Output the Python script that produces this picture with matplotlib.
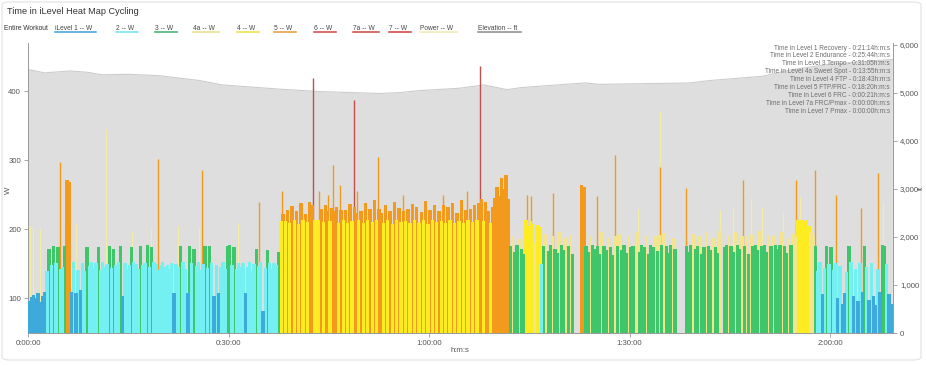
#!/usr/bin/env python3
"""
iLevel heat map: power coloured by training level over an elevation profile
"""
import numpy as np
import matplotlib as mpl
import matplotlib.pyplot as plt
from matplotlib.patches import FancyBboxPatch
from matplotlib.ticker import FuncFormatter, FixedLocator

mpl.rcParams.update({
    "font.family": ["Liberation Sans", "DejaVu Sans"],
    "axes.linewidth": 0.7,
})

# ---------------------------------------------------------------------------
# Data
# ---------------------------------------------------------------------------

BIN_MIN = 20 / 60  # one power value per 20 s

# power per 20 s bin, five minutes per line
power_w = [
    # 0-5 min
    96, 102, 105, 100, 108, 95, 104, 110, 140, 172, 148, 176, 152, 174, 143,
    # 5-10
    146, 176, 272, 268, 110, 153, 108, 141, 112, 151, 140, 174, 147, 153, 144,
    # 10-15
    152, 174, 141, 153, 146, 150, 176, 144, 172, 149, 153, 176, 104, 151, 142,
    # 15-20
    148, 175, 153, 150, 143, 176, 148, 152, 178, 145, 174, 153, 150, 141, 148,
    # 20-25
    153, 146, 149, 143, 152, 108, 150, 145, 176, 153, 142, 108, 176, 151, 172,
    # 25-30
    147, 153, 141, 150, 176, 144, 176, 152, 104, 149, 108, 145, 153, 142, 176,
    # 30-35
    178, 148, 174, 143, 152, 146, 151, 108, 145, 153, 140, 150, 172, 147, 153,
    # 35-40
    82, 144, 170, 152, 143, 151, 148, 168, 212, 222, 212, 228, 210, 234, 213,
    # 40-45
    226, 208, 238, 213, 222, 211, 240, 236, 214, 214, 213, 230, 211, 236, 226,
    # 45-50
    212, 231, 226, 233, 209, 228, 214, 228, 210, 237, 212, 233, 224, 213, 226,
    # 50-55
    209, 238, 214, 230, 211, 242, 213, 229, 224, 210, 236, 213, 227, 208, 240,
    # 55-60
    214, 231, 211, 227, 212, 229, 209, 237, 214, 232, 210, 225, 213, 241, 208,
    # 60-65
    228, 214, 235, 211, 226, 212, 236, 209, 233, 214, 238, 210, 224, 212, 243,
    # 65-70
    209, 228, 213, 230, 211, 236, 214, 238, 244, 212, 239, 227, 210, 232, 246,
    # 70-75
    262, 248, 275, 258, 279, 244, 176, 190, 168, 178, 186, 171, 165, 214, 205,
    # 75-80
    212, 208, 180, 206, 204, 150, 176, 194, 169, 178, 190, 172, 166, 196, 177,
    # 80-85
    170, 188, 176, 192, 164, 0, 0, 0, 264, 262, 176, 168, 190, 177, 172,
    # 85-90
    176, 165, 196, 176, 170, 188, 175, 163, 190, 176, 194, 170, 178, 166, 190,
    # 90-95
    174, 176, 0, 196, 168, 178, 175, 192, 164, 178, 174, 190, 169, 192, 178,
    # 95-100
    195, 176, 166, 178, 188, 172, 0, 0, 0, 0, 176, 168, 178, 194, 172,
    # 100-105
    176, 190, 165, 174, 196, 176, 170, 188, 175, 166, 198, 0, 174, 178, 192,
    # 105-110
    176, 168, 196, 178, 172, 190, 176, 190, 165, 194, 176, 178, 170, 198, 176,
    # 110-115
    178, 167, 192, 176, 190, 178, 171, 178, 196, 176, 166, 188, 178, 194, 190,
    # 115-120
    214, 210, 213, 212, 214, 205, 196, 190, 176, 140, 153, 106, 144, 176, 150,
    # 120-125
    175, 141, 152, 100, 147, 92, 108, 138, 176, 153, 104, 143, 96, 152, 110,
    # 125-129:20
    176, 145, 98, 151, 104, 90, 142, 110, 178, 176, 150, 106, 92,
]

# short efforts: peak power, coloured by their own level
peak_min = [4.8, 19.5, 26.1, 34.5, 38.0, 42.6, 43.5, 44.9, 45.6, 46.7,
            48.8, 49.2, 52.4, 56.1, 62.1, 65.7, 67.6, 74.7, 75.2, 78.5,
            85.1, 87.8, 94.5, 98.4, 107.0, 114.9, 117.7, 120.9, 124.6, 127.2]
peak_w = [298, 302, 286, 239, 255, 420, 256, 250, 293, 264,
          388, 255, 305, 250, 250, 255, 436, 250, 248, 253,
          248, 308, 290, 260, 272, 272, 286, 250, 231, 282]

# raw power spikes (Power series)
raw_min = [0.3, 0.75, 1.8, 7.2, 11.7, 15.6, 18.4, 22.4, 25.6, 31.4,
           91.2, 94.5, 103.5, 105.5, 108.2, 109.8, 113.0, 115.5, 128.0]
raw_w = [205, 204, 200, 209, 345, 196, 200, 205, 204, 210,
         230, 371, 228, 233, 245, 232, 224, 247, 240]

elev_min = [0, 2.5, 6.3, 9, 11, 15, 19.7, 25.7, 29, 37.7, 43.7, 52.7, 55.7,
            58.6, 64.6, 68.2, 71.7, 73.6, 79.3, 83.3, 85.6, 99, 102, 110,
            114, 120, 129.33]
elev_ft = [5490, 5420, 5460, 5430, 5380, 5390, 5360, 5260, 5170, 5080, 5030,
           4990, 5010, 5050, 5100, 5170, 5070, 5110, 5170, 5210, 5180, 5210,
           5260, 5350, 5480, 5600, 5700]

level_labels = ["iLevel 1 -- W", "2 -- W", "3 -- W", "4a -- W", "4 -- W",
                "5 -- W", "6 -- W", "7a -- W", "7 -- W"]
level_floor_w = [0, 115, 155, 180, 200, 215, 310, 500, 700]
level_bar_colors = ["#3eaadb", "#74eff2", "#40c66a", "#f4e48e", "#fdec22",
                    "#f39a1c", "#c2504a", "#c4453c", "#d4352f"]
level_key_colors = ["#3a9fd6", "#6fe3ec", "#3dae6e", "#e9dc88", "#f0e03c",
                    "#e39a34", "#d0453f", "#c8463e", "#d23a34"]

level_names = ["Level 1 Recovery", "Level 2 Endurance", "Level 3 Tempo",
               "Level 4a Sweet Spot", "Level 4 FTP", "Level 5 FTP/FRC",
               "Level 6 FRC", "Level 7a FRC/Pmax", "Level 7 Pmax"]
level_times = ["0:21:14", "0:25:44", "0:31:05", "0:13:55", "0:18:43",
               "0:18:20", "0:00:21", "0:00:00", "0:00:00"]

POWER_COLOR = "#f3eca6"
ELEV_FILL = "#dedede"
ELEV_LINE = "#cccccc"

W, H = 926, 366


def px(x, y):
    """pixel (from top-left) -> figure fraction"""
    return x / W, 1 - y / H


def hms(v, _pos=None):
    s = int(round(v * 60))
    return f"{s // 3600}:{s % 3600 // 60:02d}:{s % 60:02d}"


def level_of(watts):
    return np.searchsorted(level_floor_w, np.asarray(watts, float), side="right") - 1


def main():
    fig = plt.figure(figsize=(W / 100, H / 100), dpi=100)

    # rounded card outline
    fig.patches.append(FancyBboxPatch(
        px(2, 360), 919 / W, 358 / H, boxstyle="round,pad=0,rounding_size=0.008",
        transform=fig.transFigure, fc="none", ec="#e2e2e2", lw=0.8))

    x0, y_top = px(28, 43)
    x1, y_bot = px(893, 333)
    ax2 = fig.add_axes([x0, y_bot, x1 - x0, y_top - y_bot])
    ax = ax2.twinx()
    # power axis on the left, elevation axis on the right
    ax.yaxis.tick_left()
    ax2.yaxis.tick_right()
    ax.set_zorder(ax2.get_zorder() + 1)
    ax.patch.set_visible(False)

    # elevation
    ax2.fill_between(elev_min, 0, elev_ft, color=ELEV_FILL, lw=0)
    ax2.plot(elev_min, elev_ft, color=ELEV_LINE, lw=0.8)
    ax2.set_ylim(0, 6042)

    # raw power spikes at the back
    ax.vlines(raw_min, 0, raw_w, color=POWER_COLOR, lw=0.9, zorder=1)

    # short efforts
    pk_lvl = level_of(peak_w)
    ax.vlines(peak_min, 0, peak_w, colors=[level_bar_colors[k] for k in pk_lvl],
              lw=1.0, zorder=2)

    # power by level, lower levels drawn on top
    p = np.asarray(power_w, dtype=float)
    t = (np.arange(len(p)) + 0.5) * BIN_MIN
    lvl = level_of(p)
    for k, col in enumerate(level_bar_colors):
        m = lvl == k
        if m.any():
            ax.bar(t[m], p[m], width=1.5 * BIN_MIN, color=col, lw=0,
                   zorder=20 - k)
    ax.set_ylim(50, 470)
    ax.set_xlim(0, (893 - 28) * 30 / 200.5)

    # axes cosmetics
    for a in (ax, ax2):
        for s in a.spines.values():
            s.set_visible(False)
        a.tick_params(length=3, width=0.6, color="#999999", labelsize=5.6,
                      labelcolor="#555555", pad=2)
    ax2.spines["bottom"].set_visible(True)
    ax2.spines["right"].set_visible(True)
    ax.spines["left"].set_visible(True)
    for s in (ax2.spines["bottom"], ax2.spines["right"], ax.spines["left"]):
        s.set_color("#999999")

    ax.yaxis.set_major_locator(FixedLocator([100, 200, 300, 400]))
    ax2.yaxis.set_major_locator(FixedLocator(range(0, 6001, 1000)))
    ax2.yaxis.set_major_formatter(FuncFormatter(lambda v, _p: f"{int(v):,}"))
    ax2.xaxis.set_major_locator(FixedLocator([0, 30, 60, 90, 120]))
    ax2.xaxis.set_major_formatter(FuncFormatter(hms))
    ax.tick_params(axis="x", bottom=False, labelbottom=False)

    txt = dict(color="#555555", fontsize=5.6)
    fig.text(*px(460, 350), "h:m:s", ha="center", va="center", **txt)
    fig.text(*px(8, 190), "W", ha="center", va="center", rotation=90, **txt)
    fig.text(*px(921, 188), "ft", ha="center", va="center", rotation=90,
             color="#555555", fontsize=5.2)

    # title + legend row
    fig.text(*px(7, 12), "Time in iLevel Heat Map Cycling", ha="left",
             va="center", fontsize=6.6, color="#333333")
    fig.text(*px(4, 28), "Entire Workout", ha="left", va="center",
             fontsize=4.8, color="#333333")
    key_x = [55, 116, 155, 193, 237, 274, 314, 353, 389, 420, 478]
    key_labels = level_labels + ["Power -- W", "Elevation -- ft"]
    key_colors = level_key_colors + ["#efe9ad", "#8a8a8a"]
    fig.canvas.draw()
    rend = fig.canvas.get_renderer()
    for xk, lab, col in zip(key_x, key_labels, key_colors):
        tt = fig.text(*px(xk, 28), lab, ha="left", va="center", fontsize=4.8,
                      color="#444444")
        bb = tt.get_window_extent(rend)
        xa, yl = px(xk, 32)
        xb = (bb.x1 + 4) / W
        fig.add_artist(plt.Line2D([xa, xb], [yl, yl], transform=fig.transFigure,
                                  color=col, lw=1.1))

    # time-in-level summary
    for i, (name, tm) in enumerate(zip(level_names, level_times)):
        fig.text(*px(890, 48 + i * 7.9), f"Time in {name} - {tm}h:m:s",
                 ha="right", va="center", fontsize=4.7, color="#6e6e6e",
                 zorder=50)

    fig.savefig("out.png", dpi=100)


if __name__ == "__main__":
    main()
